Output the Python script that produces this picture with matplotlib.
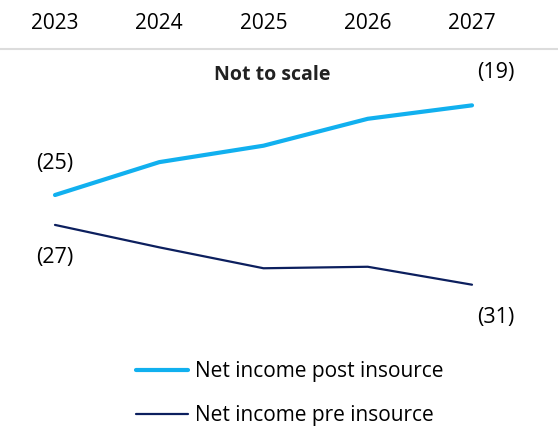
import numpy as np
import matplotlib.pyplot as plt

plt.rcParams['font.family'] = ['Open Sans', 'DejaVu Sans']

years = [2023, 2024, 2025, 2026, 2027]
post_insource = [-25, -22.8, -21.7, -19.9, -19]
pre_insource = [-27, -28.5, -29.9, -29.8, -31]
labels = ["Net income post insource", "Net income pre insource"]

light_blue = "#11b0ef"
navy = "#0c1f5e"

fig = plt.figure(figsize=(5.58, 4.26), dpi=100)
ax = fig.add_axes([0, 86 / 426, 1, 291 / 426])

ax.plot(years, post_insource, color=light_blue, lw=3.0, solid_capstyle='round', label=labels[0])
ax.plot(years, pre_insource, color=navy, lw=1.6, solid_capstyle='round', label=labels[1])

ax.set_xlim(2023 - 55 / 104.25, 2027 + 86 / 104.25)
ax.set_ylim(-34.70, -15.23)

# years along the top, grey rule underneath
ax.xaxis.tick_top()
ax.set_xticks(years)
ax.set_xticklabels([str(y) for y in years], fontsize=15)
ax.tick_params(axis='x', length=0, pad=11)
ax.set_yticks([])
for side in ['left', 'right', 'bottom']:
    ax.spines[side].set_visible(False)
ax.spines['top'].set_color('#dcdcdc')
ax.spines['top'].set_linewidth(1.5)


def fmt(v):
    return f"({abs(v):.0f})"


ax.annotate(fmt(post_insource[0]), (years[0], post_insource[0]), xytext=(0, 32),
            textcoords='offset pixels', ha='center', va='center', fontsize=15.5)
ax.annotate(fmt(pre_insource[0]), (years[0], pre_insource[0]), xytext=(0, -33),
            textcoords='offset pixels', ha='center', va='center', fontsize=15.5)
ax.annotate(fmt(post_insource[-1]), (years[-1], post_insource[-1]), xytext=(24, 33),
            textcoords='offset pixels', ha='center', va='center', fontsize=15.5)
ax.annotate(fmt(pre_insource[-1]), (years[-1], pre_insource[-1]), xytext=(24, -33),
            textcoords='offset pixels', ha='center', va='center', fontsize=15.5)

fig.text(272 / 558, 1 - 75 / 426, "Not to scale", ha='center', va='center',
         fontsize=14, fontweight='bold', color='#222222')

fig.legend(loc='upper left', bbox_to_anchor=(136 / 558, 1 - 361 / 426), frameon=False,
           fontsize=15, handlelength=2.5, handletextpad=0.34, labelspacing=1.1,
           borderpad=0, borderaxespad=0)

fig.savefig("out.png", dpi=100)
